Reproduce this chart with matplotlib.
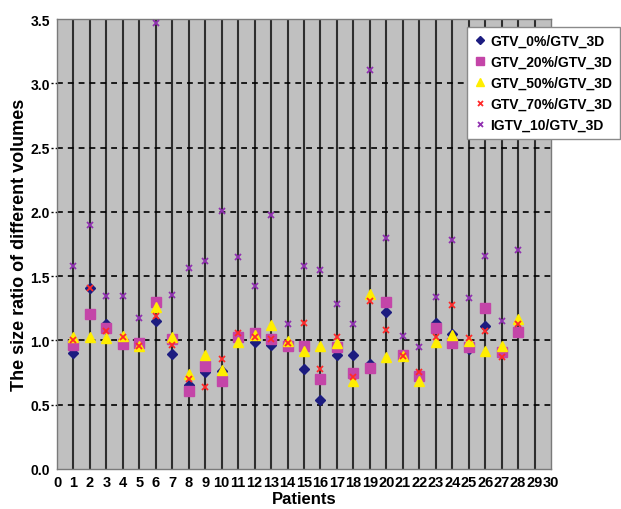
import matplotlib
matplotlib.use("Agg")
import matplotlib.pyplot as plt
import numpy as np

plt.rcParams['font.family'] = ['Liberation Sans', 'DejaVu Sans']

patients = list(range(1, 29))
gtv_0 = [0.90, 1.41, 1.127, 0.98, 0.965, 1.148, 0.894, 0.656, 0.752, 0.76,
         1.005, 0.985, 0.964, 0.97, 0.778, 0.539, 0.886, 0.886, 0.816, 1.218,
         0.875, 0.705, 1.135, 1.05, 0.933, 1.11, 0.90, 1.068]
gtv_20 = [0.967, 1.205, 1.096, 0.972, 0.977, 1.296, 1.01, 0.604, 0.803, 0.682,
          1.024, 1.055, 1.01, 0.959, 0.954, 0.70, 0.946, 0.744, 0.785, 1.296,
          0.886, 0.726, 1.10, 0.977, 0.951, 1.25, 0.907, 1.063]
gtv_50 = [1.024, 1.03, 1.016, 1.037, 0.959, 1.257, 1.024, 0.739, 0.886, 0.772,
          0.99, 1.042, 1.122, 0.998, 0.92, 0.959, 0.98, 0.682, 1.36, 0.873,
          0.876, 0.682, 0.985, 1.042, 0.993, 0.915, 0.954, 1.166]
gtv_70 = [1.005, 1.41, 1.075, 1.024, 0.954, 1.192, 0.964, 0.70, 0.635, 0.855,
          1.055, 1.024, 1.015, 0.98, 1.133, 0.778, 1.024, 0.713, 1.309, 1.081,
          0.88, 0.752, 1.024, 1.275, 1.019, 1.071, 0.868, 1.127]
igtv_10 = [1.58, 1.897, 1.348, 1.348, 1.172, 3.47, 1.353, 1.56, 1.62, 2.01,
           1.646, 1.425, 1.975, 1.127, 1.578, 1.55, 1.283, 1.127, 3.10, 1.80,
           1.037, 0.946, 1.34, 1.783, 1.327, 1.654, 1.148, 1.705]

series_labels = ["GTV_0%/GTV_3D", "GTV_20%/GTV_3D", "GTV_50%/GTV_3D",
                 "GTV_70%/GTV_3D", "IGTV_10/GTV_3D"]
x_ticks = list(range(0, 31))
y_ticks = [0.0, 0.5, 1.0, 1.5, 2.0, 2.5, 3.0, 3.5]

fig = plt.figure(figsize=(6.21, 5.10), dpi=100)
ax = fig.add_axes([57/621, 40/510, (551-57)/621, (470-20)/510])
ax.set_facecolor('#c0c0c0')

# gridlines
for xv in x_ticks[1:-1]:
    ax.axvline(xv, color='#2e2e2e', lw=1.5, zorder=1)
for yv in y_ticks[1:-1]:
    ax.axhline(yv, color='black', lw=1.2, ls=(0, (3.5, 3)), zorder=1)
    ax.plot([-0.012, 0], [yv, yv], transform=ax.get_yaxis_transform(),
            color='black', lw=1.0, ls=(0, (1.5, 1.5)), clip_on=False)

styles = [
    dict(marker='D', color='#1c1c80', ms=5.0, mec='#1c1c80'),
    dict(marker='s', color='#c445a8', ms=6.5, mec='#c445a8'),
    dict(marker='^', color='#ffee00', ms=7.5, mec='#ffee00'),
    dict(marker='x', color='#ff2a2a', ms=4.5, mew=1.3),
    dict(marker='x', color='#9030b0', ms=4.5, mew=1.3),
]
series = [gtv_0, gtv_20, gtv_50, gtv_70, igtv_10]
handles = []
for vals, st, lab in zip(series, styles, series_labels):
    h, = ax.plot(patients, vals, ls='none', label=lab, zorder=3, **st)
    handles.append(h)

ax.set_xlim(0, 30)
ax.set_ylim(0, 3.5)
ax.set_xticks(x_ticks)
ax.set_xticklabels([str(v) for v in x_ticks], fontsize=10.5, fontweight='bold')
ax.set_yticks(y_ticks)
ax.set_yticklabels([f"{v:.1f}" for v in y_ticks], fontsize=10, fontweight='bold')
ax.tick_params(axis='x', length=0, pad=4)
ax.tick_params(axis='y', length=0, pad=5)
for s in ax.spines.values():
    s.set_color('#7a7a7a')
    s.set_linewidth(1.0)

ax.set_xlabel("Patients", fontsize=12, fontweight='bold')
ax.xaxis.set_label_coords(0.5, -0.05)
ax.set_ylabel("The size ratio of different volumes", fontsize=13,
              fontweight='bold')
ax.yaxis.set_label_coords(-0.058, 0.5)

leg = ax.legend(handles=handles, loc='upper left',
                bbox_to_anchor=(467/621, 1 - 28/510),
                bbox_transform=fig.transFigure, frameon=True, fancybox=False,
                framealpha=1, edgecolor='#8a8a8a', markerscale=0.8,
                prop=dict(size=10, weight='bold'), handlelength=0.8,
                handletextpad=0.4, borderpad=0.5, labelspacing=0.5,
                borderaxespad=0)
leg.get_frame().set_linewidth(1.0)

fig.savefig("out.png", dpi=100, facecolor='white')
